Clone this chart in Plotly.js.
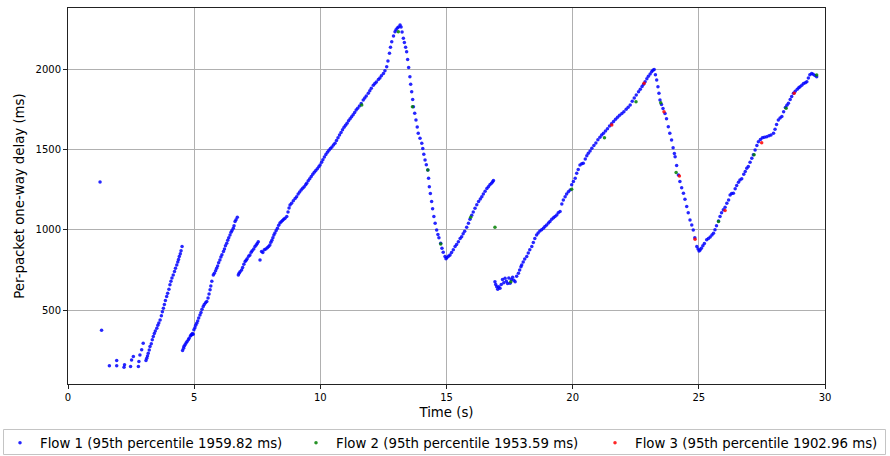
<!DOCTYPE html>
<html><head><meta charset="utf-8">
<script src="https://cdn.plot.ly/plotly-3.0.1.min.js"></script>
<style>html,body{margin:0;padding:0;background:#fff}#chart{width:890px;height:456px}</style>
</head><body><div id="chart"></div>
<script>
// Flow 1 (blue) - time (s) and delay (ms)
const flow1Time = [
1.27,1.33,1.64,1.93,1.93,2.22,2.24,2.48,2.52,2.59,2.79,2.81,2.85,2.92,2.98,
3.09,3.12,3.15,3.18,3.22,3.25,3.3,3.34,3.38,3.42,3.46,3.52,3.56,3.6,3.65,3.7,3.74,3.78,3.82,3.86,3.91,3.95,4.0,4.04,4.08,4.12,4.17,4.22,4.26,4.31,4.35,4.38,4.41,4.45,4.48,4.52,
4.54,4.58,4.6,4.64,4.68,4.72,4.77,4.8,4.85,4.88,4.9,4.93,4.96,4.99,5.03,5.06,5.1,5.14,5.18,5.23,5.27,5.31,5.36,5.4,5.45,5.5,5.55,5.59,5.63,5.66,5.7,5.76,5.8,5.85,5.89,5.93,5.97,6.02,6.06,6.1,6.16,6.2,6.24,6.29,6.33,6.37,6.42,6.46,6.5,6.55,6.58,6.62,6.66,6.71,
6.75,6.78,6.82,6.88,6.92,6.97,7.02,7.06,7.1,7.16,7.21,7.26,7.3,7.36,7.41,7.46,7.5,7.54,7.61,
7.67,7.72,7.78,7.84,7.9,7.95,8.0,8.04,8.08,8.12,8.16,8.2,8.25,8.3,8.35,8.4,8.45,8.5,8.55,8.6,8.67,8.72,8.76,8.8,8.86,8.93,9.0,9.06,9.12,9.18,9.24,9.3,9.36,9.42,9.46,9.52,9.58,9.64,9.7,9.76,9.82,9.88,9.94,9.99,
10.05,10.1,10.16,10.22,10.28,10.34,10.4,10.46,10.52,10.58,10.64,10.7,10.76,10.82,10.88,10.94,11.0,11.06,11.12,11.18,11.24,11.3,11.36,11.42,11.48,11.55,11.62,11.7,11.76,11.82,11.9,11.96,12.02,12.1,12.16,12.22,12.3,12.36,12.42,12.5,12.56,12.63,12.68,12.74,12.78,12.83,12.9,12.96,13.0,13.05,13.1,13.16,
13.2,13.24,13.29,13.33,13.38,13.42,13.46,13.5,13.55,13.58,13.62,13.66,13.69,13.74,13.79,13.84,13.88,13.95,14.02,14.06,14.1,14.15,14.2,14.26,14.29,14.32,14.36,14.41,14.45,14.5,14.55,14.61,14.66,14.7,14.77,14.82,14.87,14.94,14.98,
15.02,15.08,15.14,15.2,15.27,15.34,15.4,15.47,15.54,15.6,15.66,15.72,15.8,15.87,15.93,16.0,16.06,16.13,16.2,16.27,16.34,16.4,16.46,16.53,16.6,16.66,16.72,16.78,16.83,16.86,
16.92,16.95,16.99,17.03,17.07,17.12,17.17,17.22,17.27,17.32,17.37,17.42,17.47,17.52,17.57,17.62,17.67,17.72,17.78,17.85,17.9,17.95,17.98,18.04,18.1,18.18,18.24,18.3,18.38,18.44,18.5,18.57,18.63,18.7,18.77,18.84,18.9,18.97,19.04,19.1,19.17,19.24,19.3,19.37,19.43,19.5,19.57,19.63,19.7,19.76,19.83,19.9,19.96,
20.03,20.1,20.16,20.22,20.29,20.36,20.42,20.5,20.56,20.62,20.69,20.76,20.84,20.92,21.0,21.08,21.15,21.22,21.3,21.38,21.46,21.54,21.62,21.7,21.78,21.86,21.95,22.03,22.12,22.2,22.28,22.36,22.44,22.52,22.61,22.68,22.75,22.81,22.87,22.94,23.0,23.07,23.13,23.18,23.23,
23.28,23.33,23.38,23.42,23.46,23.52,23.58,23.66,23.72,23.79,23.85,23.92,23.98,24.03,24.06,24.12,24.19,24.25,24.32,24.39,24.45,24.52,24.58,24.65,24.72,24.78,24.84,24.92,24.97,25.01,
25.05,25.1,25.16,25.22,25.31,25.38,25.45,25.52,25.58,25.64,25.7,25.78,25.84,25.9,25.97,26.04,26.11,26.18,26.24,26.3,26.37,26.44,26.5,26.57,26.63,26.7,26.78,26.84,26.9,26.96,27.03,27.1,27.16,27.23,27.3,27.36,27.44,27.52,27.6,27.69,27.78,27.86,27.96,
28.02,28.08,28.15,28.22,28.29,28.36,28.43,28.49,28.55,28.62,28.68,28.75,28.82,28.9,28.96,29.01,29.08,29.15,29.22,29.28,29.34,29.4,29.47,29.53,29.6,29.67
];
const flow1Delay = [
1297,375,153,186,153,145,160,149,190,211,149,180,221,253,294,
186,200,215,232,252,273,290,315,336,355,370,387,405,420,439,465,490,512,535,560,584,605,630,657,680,700,719,740,760,781,800,815,833,850,870,895,
248,262,275,284,295,305,315,325,338,345,346,355,350,377,390,405,418,432,450,470,485,505,522,535,545,553,575,600,626,650,680,719,730,745,760,775,795,812,830,845,864,880,900,916,935,950,968,985,995,1009,1025,1051,1062,1078,
719,730,738,750,765,785,802,810,820,835,843,860,870,880,895,905,915,926,812,
864,858,875,880,888,896,905,922,935,950,968,980,995,1010,1028,1042,1050,1058,1065,1072,1082,1110,1135,1154,1165,1180,1195,1206,1222,1235,1248,1258,1268,1280,1289,1305,1318,1332,1345,1358,1368,1380,1392,1403,
1420,1435,1452,1468,1482,1495,1505,1515,1528,1538,1555,1572,1590,1605,1622,1638,1650,1662,1678,1690,1703,1716,1730,1745,1756,1770,1785,1807,1820,1832,1850,1865,1880,1900,1910,1920,1935,1945,1958,1973,1990,2014,2050,2098,2135,2170,2205,2232,2245,2255,2262,2274,
2262,2230,2191,2165,2135,2108,2060,2010,1952,1905,1859,1810,1766,1725,1683,1640,1600,1570,1538,1505,1470,1434,1405,1372,1320,1268,1225,1175,1130,1082,1040,999,970,950,916,885,860,833,820,
828,835,843,858,875,895,908,925,945,957,975,990,1015,1040,1065,1090,1110,1134,1155,1175,1192,1206,1222,1240,1256,1268,1280,1290,1298,1306,
677,660,646,630,645,636,660,690,670,698,680,665,700,667,690,705,685,677,710,729,750,770,781,800,818,833,855,875,895,920,945,968,980,992,1000,1009,1020,1030,1042,1051,1065,1075,1082,1092,1105,1113,1160,1185,1205,1222,1237,1248,1280,
1300,1320,1351,1375,1403,1410,1414,1440,1460,1476,1490,1507,1525,1540,1560,1575,1590,1600,1615,1628,1645,1660,1673,1688,1700,1712,1724,1735,1750,1763,1776,1800,1820,1838,1859,1875,1892,1905,1921,1940,1955,1970,1983,1992,1998,
1965,1932,1890,1850,1807,1780,1755,1724,1690,1641,1600,1559,1510,1475,1455,1400,1341,1300,1262,1227,1190,1144,1105,1061,1030,999,950,895,880,868,
874,885,900,915,937,945,955,968,978,1000,1025,1055,1082,1105,1125,1140,1165,1185,1216,1225,1227,1255,1275,1295,1310,1318,1345,1362,1383,1393,1420,1445,1466,1497,1525,1548,1562,1572,1575,1579,1585,1590,1600,
1625,1655,1683,1695,1704,1735,1760,1775,1787,1810,1830,1849,1862,1875,1883,1890,1900,1910,1915,1921,1945,1965,1973,1968,1960,1952
];
// Flow 2 (green)
const flow2Time = [11.64,13.09,13.65,14.26,14.77,15.96,16.92,17.55,19.96,21.26,22.51,23.49,24.1,25.78,27.19,28.46,29.67];
const flow2Delay = [1776,2232,1766,1372,912,1078,1016,677,1252,1573,1797,1791,1356,1051,1466,1756,1963];
// Flow 3 (red)
const flow3Time = [21.55,22.83,23.62,24.23,24.85,26.04,27.49,28.78];
const flow3Delay = [1652,1911,1735,1335,941,1119,1542,1849];

const legendNames = [
  'Flow 1 (95th percentile 1959.82 ms)',
  'Flow 2 (95th percentile 1953.59 ms)',
  'Flow 3 (95th percentile 1902.96 ms)'
];
const xTicks = [0,5,10,15,20,25,30];
const yTicks = [500,1000,1500,2000];

const font = 'DejaVu Sans, sans-serif';
const W = 890, H = 456, M = {l: 68, r: 65, t: 8, b: 72};
const PW = W - M.l - M.r, PH = H - M.t - M.b;
const px2x = p => (p - M.l) / PW;
const px2y = p => (H - M.b - p) / PH;

function tr(x, y, name, color, leg) {
  return {x: x, y: y, name: name, type: 'scatter', mode: 'markers', legend: leg,
    marker: {color: color, size: 3.5, opacity: 0.85, line: {width: 0}}};
}
const data = [
  tr(flow1Time, flow1Delay, legendNames[0], '#0000ff', 'legend'),
  tr(flow2Time, flow2Delay, legendNames[1], '#008000', 'legend2'),
  tr(flow3Time, flow3Delay, legendNames[2], '#ff0000', 'legend3')
];
const axisCommon = {
  showline: true, mirror: true, linecolor: '#222', linewidth: 1,
  ticks: 'outside', ticklen: 4, tickcolor: '#222', tickwidth: 1,
  showgrid: true, gridcolor: '#b0b0b0', gridwidth: 1, zeroline: false, automargin: false,
  tickfont: {family: font, size: 10, color: '#000'}
};
function leg(leftPx) {
  return {orientation: 'h', xref: 'container', yref: 'container',
    x: leftPx / W, xanchor: 'left', y: 1 - 427.5 / H, yanchor: 'top',
    borderwidth: 0, bgcolor: 'rgba(0,0,0,0)', font: {family: font, size: 13.3}, itemsizing: 'trace'};
}
const layout = {
  width: W, height: H,
  margin: Object.assign({autoexpand: false}, M),
  paper_bgcolor: '#fff', plot_bgcolor: '#fff',
  font: {family: font, color: '#000'},
  showlegend: true,
  xaxis: Object.assign({}, axisCommon, {range: [0, 30], tickvals: xTicks, ticktext: xTicks.map(String),
    title: {text: 'Time (s)', font: {family: font, size: 13.3}, standoff: 5}}),
  yaxis: Object.assign({}, axisCommon, {range: [40, 2380], tickvals: yTicks, ticktext: yTicks.map(String),
    title: {text: 'Per-packet one-way delay (ms)', font: {family: font, size: 13.3}, standoff: 7}}),
  legend: leg(-4),
  legend2: leg(296),
  legend3: leg(595),
  shapes: [{type: 'rect', xref: 'paper', yref: 'paper',
    x0: px2x(3.5), x1: px2x(885.5), y0: px2y(454.5), y1: px2y(429.5),
    line: {color: '#c4c4c4', width: 1}, fillcolor: 'rgba(0,0,0,0)', layer: 'above'}]
};
Plotly.newPlot('chart', data, layout, {staticPlot: true, displayModeBar: false});
</script></body></html>
